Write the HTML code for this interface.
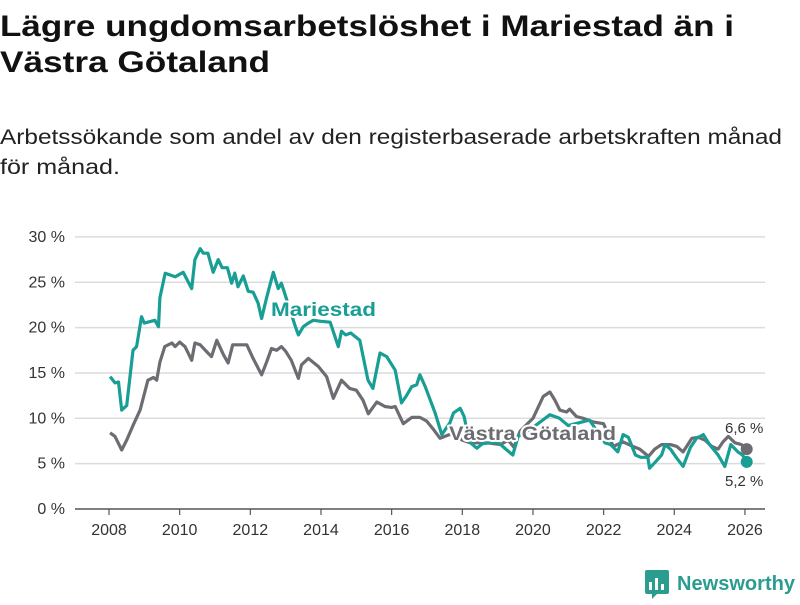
<!DOCTYPE html>
<html><head><meta charset="utf-8"><style>
body{margin:0;background:#fff;width:800px;height:600px;overflow:hidden;font-family:"Liberation Sans",sans-serif}
</style></head><body>
<svg id="chart" width="800" height="600" viewBox="0 0 800 600" xmlns="http://www.w3.org/2000/svg" font-family="Liberation Sans, sans-serif">
<text x="0" y="36" font-size="30" font-weight="bold" fill="#111" textLength="734" lengthAdjust="spacingAndGlyphs">Lägre ungdomsarbetslöshet i Mariestad än i</text>
<text x="0" y="72" font-size="30" font-weight="bold" fill="#111" textLength="270" lengthAdjust="spacingAndGlyphs">Västra Götaland</text>
<text x="0" y="144" font-size="21" fill="#222" textLength="782" lengthAdjust="spacingAndGlyphs">Arbetssökande som andel av den registerbaserade arbetskraften månad</text>
<text x="0" y="174" font-size="21" fill="#222" textLength="120" lengthAdjust="spacingAndGlyphs">för månad.</text>
<g id="grid"></g><g id="axes"></g><g id="series"></g><g id="labels"></g>
<g>
<rect x="645" y="570" width="24" height="24" rx="2" fill="#2a9d8f"/>
<rect x="649" y="582" width="3" height="8" fill="#fff"/><rect x="655" y="578" width="3" height="12" fill="#fff"/><rect x="661" y="584" width="3" height="6" fill="#fff"/>
<polygon points="652,594 657,594 652,599" fill="#2a9d8f"/>
<text x="677" y="590" font-size="20" font-weight="bold" fill="#2a9d8f" textLength="118" lengthAdjust="spacingAndGlyphs">Newsworthy</text>
</g>
</svg>
<script>
const yTicks=[0,5,10,15,20,25,30];
const xTicks=[2008,2010,2012,2014,2016,2018,2020,2022,2024,2026];
const mDates=[2008.03,2008.17,2008.27,2008.36,2008.5,2008.68,2008.78,2008.92,2009.0,2009.3,2009.4,2009.44,2009.59,2009.87,2010.1,2010.34,2010.43,2010.58,2010.67,2010.8,2010.95,2011.09,2011.2,2011.35,2011.47,2011.56,2011.65,2011.8,2011.94,2012.08,2012.22,2012.32,2012.46,2012.65,2012.79,2012.88,2012.98,2013.26,2013.36,2013.5,2013.64,2013.78,2014.0,2014.26,2014.49,2014.58,2014.7,2014.84,2015.1,2015.33,2015.47,2015.67,2015.86,2016.1,2016.28,2016.42,2016.57,2016.71,2016.8,2016.95,2017.23,2017.42,2017.65,2017.75,2017.94,2018.05,2018.2,2018.41,2018.57,2019.0,2019.26,2019.43,2019.58,2020.0,2020.48,2020.75,2021.0,2021.6,2022.04,2022.2,2022.4,2022.55,2022.7,2022.9,2023.05,2023.25,2023.3,2023.45,2023.64,2023.74,2023.89,2024.07,2024.25,2024.46,2024.63,2024.82,2025.0,2025.24,2025.43,2025.6,2025.8,2025.93,2026.05];
const mValues=[14.6,13.9,14.0,10.9,11.4,17.5,17.9,21.2,20.5,20.8,20.1,23.3,26.0,25.6,26.1,24.3,27.5,28.7,28.2,28.2,26.1,27.5,26.6,26.6,24.9,26.0,24.5,25.7,24.0,23.9,22.7,21.0,23.3,26.1,24.3,24.9,23.7,20.3,19.2,20.1,20.5,20.8,20.7,20.6,17.9,19.6,19.2,19.4,18.6,14.2,13.3,17.2,16.8,15.3,11.7,12.5,13.5,13.7,14.8,13.5,10.6,8.2,9.5,10.6,11.1,10.2,7.4,6.7,7.2,7.4,6.5,5.95,8.0,9.0,10.4,10.0,9.2,9.8,7.3,7.1,6.3,8.2,7.9,5.95,5.7,5.7,4.5,5.1,5.95,7.1,6.6,5.6,4.7,6.8,7.8,8.2,7.1,5.95,4.7,7.1,6.3,5.95,5.2];
const gDates=[2008.03,2008.17,2008.36,2008.5,2008.69,2008.88,2009.1,2009.26,2009.35,2009.44,2009.58,2009.78,2009.87,2010.0,2010.15,2010.34,2010.43,2010.58,2010.8,2010.9,2011.05,2011.24,2011.37,2011.5,2011.7,2011.9,2012.08,2012.32,2012.46,2012.6,2012.74,2012.88,2013.0,2013.16,2013.36,2013.45,2013.64,2013.93,2014.16,2014.35,2014.58,2014.81,2015.0,2015.19,2015.34,2015.58,2015.81,2016.0,2016.1,2016.33,2016.57,2016.8,2016.99,2017.18,2017.37,2017.7,2018.0,2018.22,2018.7,2019.08,2019.3,2019.46,2019.64,2020.0,2020.29,2020.48,2020.62,2020.76,2020.95,2021.04,2021.23,2021.42,2021.7,2022.0,2022.27,2022.55,2022.83,2023.02,2023.27,2023.45,2023.64,2023.89,2024.07,2024.25,2024.5,2024.68,2024.87,2025.06,2025.24,2025.38,2025.53,2025.72,2025.9,2026.05];
const gValues=[8.4,8.0,6.5,7.6,9.3,10.9,14.2,14.5,14.2,16.2,17.9,18.3,17.9,18.4,17.9,16.4,18.3,18.1,17.2,16.8,18.6,17.0,16.1,18.1,18.1,18.1,16.6,14.8,16.2,17.7,17.5,17.9,17.4,16.4,14.4,15.9,16.6,15.7,14.6,12.2,14.2,13.3,13.1,12.0,10.5,11.8,11.3,11.2,11.3,9.4,10.1,10.1,9.7,8.8,7.8,8.3,7.6,7.3,7.3,7.1,7.6,6.8,8.6,10.0,12.4,12.9,12.0,10.9,10.7,11.0,10.2,10.0,9.6,9.4,6.9,7.4,6.9,6.6,5.8,6.6,7.1,7.1,6.9,6.3,7.8,7.9,7.6,6.9,6.6,7.4,8.0,7.3,7.1,6.6];
const NS="http://www.w3.org/2000/svg";
const X=y=>109+(y-2008)*35.33;
const Y=v=>509-v*9.07;
function mk(tag,attrs,parent,txt){const e=document.createElementNS(NS,tag);for(const k in attrs)e.setAttribute(k,attrs[k]);if(txt!==undefined)e.textContent=txt;document.getElementById(parent).appendChild(e);return e;}
yTicks.forEach(t=>{
  const l=mk('line',{x1:75,x2:765,y1:Y(t),y2:Y(t),stroke:t===0?'#555':'#dcdcdc','stroke-width':1.5},'grid');
  
  
  const tx=mk('text',{x:65,y:Y(t)+5,'font-size':16,fill:'#333','text-anchor':'end'},'axes',t+' %');
  
  
});
xTicks.forEach(t=>{
  const l=mk('line',{x1:X(t),x2:X(t),y1:509,y2:515,stroke:'#555','stroke-width':1.2},'axes');
  
  
  const tx=mk('text',{x:X(t),y:535,'font-size':16,fill:'#333','text-anchor':'middle'},'axes',String(t));
  
  
});
function path(d,v){return d.map((x,i)=>(i?'L':'M')+X(x).toFixed(1)+','+Y(v[i]).toFixed(1)).join('');}
const gl=mk('path',{d:path(gDates,gValues),fill:'none',stroke:'#6d6c72','stroke-width':3.2,'stroke-linejoin':'round'},'series');


const ml=mk('path',{d:path(mDates,mValues),fill:'none',stroke:'#189e94','stroke-width':3.2,'stroke-linejoin':'round'},'series');


const gd=mk('circle',{cx:X(gDates[gDates.length-1]),cy:Y(gValues[gValues.length-1]),r:6,fill:'#6d6c72'},'series');


const md=mk('circle',{cx:X(mDates[mDates.length-1]),cy:Y(mValues[mValues.length-1]),r:6,fill:'#189e94'},'series');


const halo={stroke:'#fff','stroke-width':4,'paint-order':'stroke','stroke-linejoin':'round'};
const lm=mk('text',Object.assign({x:271,y:316,'font-size':19,'font-weight':'bold',fill:'#189e94',textLength:105,lengthAdjust:'spacingAndGlyphs'},halo),'labels','Mariestad');


const lg=mk('text',Object.assign({x:449,y:440,'font-size':19,'font-weight':'bold',fill:'#6d6c72',textLength:167,lengthAdjust:'spacingAndGlyphs'},halo),'labels','Västra Götaland');


const v1=mk('text',Object.assign({x:725,y:433,'font-size':15,fill:'#333'},halo),'labels','6,6 %');


const v2=mk('text',Object.assign({x:725,y:486,'font-size':15,fill:'#333'},halo),'labels','5,2 %');


</script>
</body></html>
